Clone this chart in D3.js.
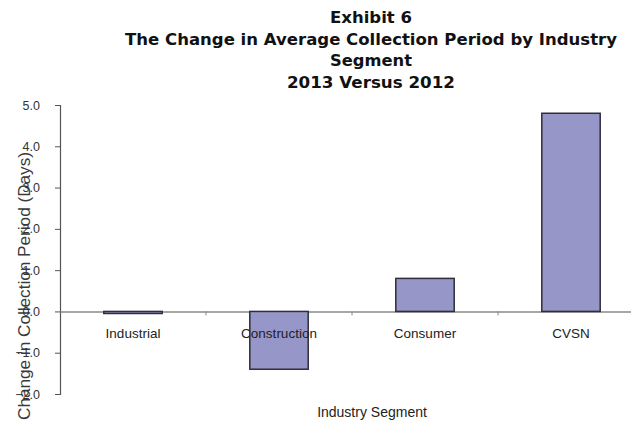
<!DOCTYPE html>
<html>
<head>
<meta charset="utf-8">
<script src="https://cdn.jsdelivr.net/npm/d3@7"></script>
<style>
  html, body { margin: 0; padding: 0; background: #fff; }
  svg { display: block; font-family: "Liberation Sans", Arial, sans-serif; }
</style>
</head>
<body>
<svg id="chart" width="631" height="422"></svg>
<script>
const titleLines = ["Exhibit 6", "The Change in Average Collection Period by Industry", "Segment", "2013 Versus 2012"];
const titleWidths = [82, 492, 82, 168];
const categories = ["Industrial", "Construction", "Consumer", "CVSN"];
const values = [-0.05, -1.4, 0.8, 4.8];
const yTicks = [-2, -1, 0, 1, 2, 3, 4, 5];
const yTitle = "Change in Collection Period (Days)";
const xTitle = "Industry Segment";

const svg = d3.select("#chart");

const x = d3.scaleBand().domain(categories).range([60, 644]).paddingInner(0.6).paddingOuter(0.3);
const y = d3.scaleLinear().domain([-2, 5]).range([394, 105]);

// Title
svg.append("g").selectAll("text").data(titleLines).join("text")
  .attr("x", 371).attr("y", (d, i) => 23 + i * 21.6)
  .attr("text-anchor", "middle")
  .attr("font-family", "DejaVu Sans, sans-serif")
  .attr("font-size", 15.5).attr("font-weight", "bold").attr("fill", "#111")
  .attr("textLength", (d, i) => titleWidths[i])
  .attr("lengthAdjust", "spacingAndGlyphs")
  .text(d => d);

// Y axis title (drawn beneath tick labels)
svg.append("text")
  .attr("transform", "translate(30,286) rotate(-90)")
  .attr("text-anchor", "middle").attr("font-size", 17).attr("fill", "#3a3a3a")
  .attr("textLength", 268).attr("lengthAdjust", "spacingAndGlyphs")
  .text(yTitle);

// Y axis
const yAxis = d3.axisLeft(y).tickValues(yTicks).tickFormat(d3.format(".1f")).tickSize(5).tickPadding(15);
const gy = svg.append("g").attr("transform", "translate(60,0)").call(yAxis);
gy.select(".domain").attr("stroke", "#555").attr("stroke-width", 1.2);
gy.selectAll(".tick line").attr("stroke", "#555");
gy.selectAll(".tick text").attr("font-size", 12.5).attr("fill", "#333")
  .attr("font-family", "Liberation Sans, Arial, sans-serif");

// X axis line at zero with separator ticks
const gxLine = svg.append("g").attr("transform", `translate(0,${y(0)})`)
  .call(d3.axisBottom(x).tickSize(0).tickFormat(""));
gxLine.select(".domain").attr("stroke", "#8a8a8a").attr("stroke-width", 1.5);
const seps = categories.slice(1).map(c => x(c) - x.step() * x.paddingInner() / 2);
gxLine.append("g").selectAll("line").data(seps).join("line")
  .attr("x1", d => d).attr("x2", d => d).attr("y1", 0).attr("y2", 4)
  .attr("stroke", "#888");

// Bars
svg.append("g").selectAll("rect").data(values).join("rect")
  .attr("x", (d, i) => x(categories[i]))
  .attr("width", x.bandwidth())
  .attr("y", d => y(Math.max(0, d)))
  .attr("height", d => Math.abs(y(d) - y(0)))
  .attr("fill", "#9696c8")
  .attr("stroke", "#2f2f3a").attr("stroke-width", 1.5);

// Category labels on top of bars
const gxLab = svg.append("g").attr("transform", `translate(0,${y(0)})`)
  .call(d3.axisBottom(x).tickSize(0).tickPadding(17));
gxLab.select(".domain").remove();
gxLab.selectAll(".tick text").attr("font-size", 13.5).attr("fill", "#222")
  .attr("font-family", "Liberation Sans, Arial, sans-serif");

// X axis title
svg.append("text")
  .attr("x", 372).attr("y", 417)
  .attr("text-anchor", "middle").attr("font-size", 14).attr("fill", "#222")
  .text(xTitle);
</script>
</body>
</html>
